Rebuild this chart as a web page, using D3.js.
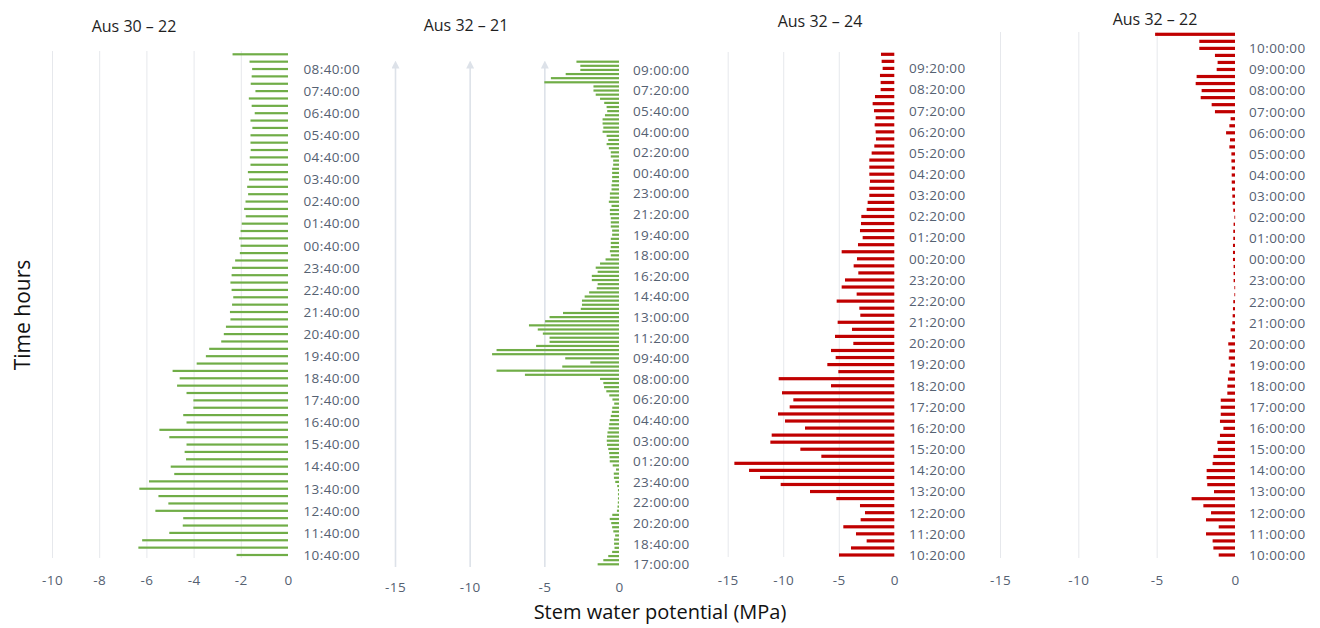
<!DOCTYPE html>
<html>
<head>
<meta charset="utf-8">
<script src="https://cdn.jsdelivr.net/npm/d3@7"></script>
<style>
  html, body { margin: 0; padding: 0; background: #fff; }
  svg { display: block; font-family: "Open Sans", sans-serif; }
</style>
</head>
<body>
<div id="chart"></div>
<script>
// Stem water potential — 4 tree panels, one bar per 20 min reading
(() => {
  // ---- data (chronological, bottom bar first) ----
  const titles = ["Aus 30 – 22", "Aus 32 – 21", "Aus 32 – 24", "Aus 32 – 22"];
  const startTimes = ["10:40", "17:00", "10:20", "10:00"];
  const labelEvery = [3, 5, 3, 3];            // one time label every n bars
  const xTicks = [
    [-10, -8, -6, -4, -2, 0],
    [-15, -10, -5, 0],
    [-15, -10, -5, 0],
    [-15, -10, -5, 0]
  ];

  const aus3022 = [
    -2.18, -6.34, -6.18, -5.03, -4.46, -4.44, -5.62, -5.07, -5.49, -6.30,
    -5.89, -4.82, -4.97, -4.32, -4.38, -4.30, -5.03, -5.45, -4.30, -4.44,
    -4.01, -4.01, -4.30, -4.70, -4.59, -4.89, -3.87, -3.48, -3.34, -2.83,
    -2.72, -2.63, -2.44, -2.46, -2.37, -2.32, -2.39, -2.44, -2.39, -2.37,
    -2.24, -2.04, -2.01, -2.07, -2.01, -1.96, -1.79, -1.86, -1.80, -1.69,
    -1.73, -1.65, -1.70, -1.59, -1.62, -1.58, -1.59, -1.59, -1.51, -1.59,
    -1.41, -1.54, -1.66, -1.38, -1.58, -1.54, -1.52, -1.63, -2.35
  ];

  const aus3221 = [
    // day 1, 17:00 – 23:40
    -1.43, -1.05, -0.72, -0.46, -0.30, -0.33, -0.33, -0.26, -0.38, -0.46,
    -0.52, -0.62, -0.45, -0.14, -0.10, -0.08, -0.07, -0.07, -0.07, -0.12,
    -0.25,
    // day 2, 00:00 – 23:40
    -0.34, -0.35, -0.20, -0.42, -0.62, -0.63, -0.66, -0.72, -0.80, -0.82,
    -0.80, -0.77, -0.69, -0.66, -0.62, -0.55, -0.48, -0.45, -0.32, -0.44,
    -0.65, -0.85, -1.00, -1.05, -1.27, -6.30, -8.20, -3.80, -1.92, -3.60,
    -8.50, -8.20, -5.55, -4.65, -4.65, -5.10, -5.44, -6.03, -4.95, -4.65,
    -3.75, -2.56, -2.48, -2.48, -2.30, -2.00, -1.49, -1.43, -1.82, -1.82,
    -1.43, -1.56, -1.27, -0.90, -0.55, -0.61, -0.55, -0.55, -0.55, -0.46,
    -0.46, -0.55, -0.55, -0.55, -0.61, -0.61, -0.50, -0.68, -0.61, -0.61,
    -0.50, -0.50,
    // day 3, 00:00 – 09:40
    -0.46, -0.46, -0.46, -0.46, -0.39, -0.39, -0.55, -0.55, -0.68, -0.83,
    -0.72, -0.83, -1.10, -1.05, -1.10, -1.10, -0.94, -0.79, -0.83, -0.99,
    -1.27, -1.56, -1.71, -1.71, -5.00, -4.56, -3.57, -2.59, -2.59, -2.85
  ];

  const aus3224 = [
    -4.98, -3.90, -2.49, -3.45, -4.59, -3.03, -2.64, -3.09, -5.22, -7.59,
    -10.23, -12.09, -13.08, -14.40, -6.57, -8.46, -11.16, -11.04, -8.04, -9.84,
    -10.47, -9.42, -9.09, -10.11, -5.70, -10.41, -5.04, -6.03, -5.28, -5.70,
    -3.69, -5.34, -3.81, -5.10, -3.06, -3.15, -5.19, -3.39, -4.74, -4.44,
    -3.24, -3.66, -3.36, -4.74, -3.27, -2.85, -3.09, -3.00, -2.97, -2.49,
    -2.40, -2.25, -2.25, -2.19, -2.25, -2.25, -2.25, -2.04, -1.80, -1.65,
    -1.68, -1.77, -1.68, -1.83, -1.95, -1.74, -1.23, -1.23, -1.29, -1.05,
    -1.14, -1.20
  ];

  const aus3222 = [
    -1.04, -1.38, -1.43, -1.85, -1.04, -1.85, -1.53, -2.02, -2.77, -1.34,
    -1.77, -1.81, -1.81, -1.43, -1.38, -1.09, -1.13, -0.96, -0.74, -0.96,
    -0.91, -0.91, -0.91, -0.49, -0.49, -0.45, -0.36, -0.28, -0.40, -0.36,
    -0.43, -0.19, -0.28, -0.17, -0.15, -0.13, -0.11, -0.04, -0.04, -0.09,
    -0.09, -0.09, -0.13, -0.13, -0.13, -0.11, -0.11, -0.09, -0.04, -0.11,
    -0.15, -0.17, -0.19, -0.21, -0.21, -0.21, -0.23, -0.23, -0.36, -0.32,
    -0.57, -0.36, -0.28, -1.28, -1.49, -2.19, -2.13, -2.51, -2.45, -1.17,
    -1.11, -1.28, -2.28, -2.28, -5.10
  ];

  const seriesValues = [aus3022, aus3221, aus3224, aus3222];
  const barColors = ["#70ad47", "#70ad47", "#c00000", "#c00000"];

  // ---- layout (pixel placement of each panel) ----
  const W = 1320, H = 628;
  const LAYOUT = [
    { xMin: -10, xL: 52,    x0: 288,   yTop: 54.3, yBot: 555,   gTop: 51, gBot: 558, tickY: 575, labX: 303.5, barH: 2.2, titleX: 134,  titleY: 32, arrows: false },
    { xMin: -15, xL: 395,   x0: 619,   yTop: 61.7, yBot: 564.3, gTop: 67, gBot: 567, tickY: 582, labX: 633,   barH: 2.2, titleX: 466,  titleY: 31, arrows: true  },
    { xMin: -15, xL: 727.7, x0: 894.3, yTop: 54.3, yBot: 555,   gTop: 52, gBot: 557, tickY: 575, labX: 909,   barH: 3.2, titleX: 820,  titleY: 27, arrows: false },
    { xMin: -15, xL: 1000,  x0: 1235,  yTop: 34.3, yBot: 555,   gTop: 32, gBot: 558, tickY: 575, labX: 1249,  barH: 3.2, titleX: 1155, titleY: 25, arrows: false }
  ];

  const fmtTime = d3.timeFormat("%H:%M:%S");
  const parseHM = d3.timeParse("%H:%M");
  const labelColor = "#556172";

  const svg = d3.select("#chart").append("svg")
    .attr("width", W).attr("height", H)
    .attr("viewBox", [0, 0, W, H]);

  // arrow tip for the Aus 32 – 21 grid lines
  svg.append("defs").append("marker")
    .attr("id", "gridArrow")
    .attr("viewBox", "0 0 10 10")
    .attr("refX", 2).attr("refY", 5)
    .attr("markerWidth", 8).attr("markerHeight", 8)
    .attr("markerUnits", "userSpaceOnUse")
    .attr("orient", "auto")
    .append("path")
    .attr("d", "M0,0 L10,5 L0,10 Z")
    .attr("fill", "#dde2e9");

  seriesValues.forEach((vals, idx) => {
    const L = LAYOUT[idx];
    const start = parseHM(startTimes[idx]);
    const labels = vals.map((_, i) => fmtTime(d3.timeMinute.offset(start, i * 20)));
    const n = vals.length;

    const x = d3.scaleLinear().domain([L.xMin, 0]).range([L.xL, L.x0]);
    const y = d3.scalePoint().domain(d3.range(n)).range([L.yBot, L.yTop]);

    const panel = svg.append("g").attr("class", `panel p${idx}`);

    // --- vertical grid ---
    const gridVals = xTicks[idx].filter(t => t !== 0);
    const grid = panel.append("g")
      .attr("transform", `translate(0,${L.gBot})`)
      .call(d3.axisBottom(x).tickValues(gridVals).tickSize(-(L.gBot - L.gTop)).tickFormat(""));
    grid.select(".domain").remove();
    grid.selectAll("line")
      .attr("stroke", L.arrows ? "#dde2e9" : "#e6e8ec")
      .attr("stroke-width", L.arrows ? 1.6 : 1)
      .attr("marker-end", L.arrows ? "url(#gridArrow)" : null);

    // --- x tick labels ---
    const ax = panel.append("g")
      .attr("transform", `translate(0,${L.tickY})`)
      .call(d3.axisBottom(x).tickValues(xTicks[idx]).tickSize(0).tickPadding(0).tickFormat(d => String(d)));
    ax.select(".domain").remove();
    ax.selectAll("text")
      .attr("font-family", "Open Sans, sans-serif")
      .attr("font-size", 13.5)
      .attr("letter-spacing", 0.4)
      .attr("fill", labelColor);

    // --- bars ---
    panel.append("g").selectAll("rect")
      .data(vals)
      .join("rect")
      .attr("x", d => x(d))
      .attr("y", (d, i) => y(i) - L.barH / 2)
      .attr("width", d => Math.max(x(0) - x(d), 0.8))
      .attr("height", L.barH)
      .attr("fill", barColors[idx]);

    // --- time labels (right side) ---
    const tickIdx = d3.range(0, n, labelEvery[idx]);
    const ay = panel.append("g")
      .attr("transform", `translate(${L.labX},0)`)
      .call(d3.axisRight(y).tickValues(tickIdx).tickSize(0).tickPadding(0).tickFormat(i => labels[i]));
    ay.select(".domain").remove();
    ay.selectAll("text")
      .attr("font-family", "Open Sans, sans-serif")
      .attr("font-size", 13.5)
      .attr("letter-spacing", 0.4)
      .attr("fill", labelColor);

    // --- panel title ---
    panel.append("text")
      .attr("x", L.titleX).attr("y", L.titleY)
      .attr("text-anchor", "middle")
      .attr("font-size", 16)
      .attr("fill", "#1f1f1f")
      .text(titles[idx]);
  });

  // ---- axis titles ----
  svg.append("text")
    .attr("transform", "translate(30,315) rotate(-90)")
    .attr("text-anchor", "middle")
    .attr("font-size", 21)
    .attr("fill", "#111")
    .text("Time hours");

  svg.append("text")
    .attr("x", 660).attr("y", 619)
    .attr("text-anchor", "middle")
    .attr("font-size", 20)
    .attr("fill", "#111")
    .text("Stem water potential (MPa)");
})();
</script>
</body>
</html>
